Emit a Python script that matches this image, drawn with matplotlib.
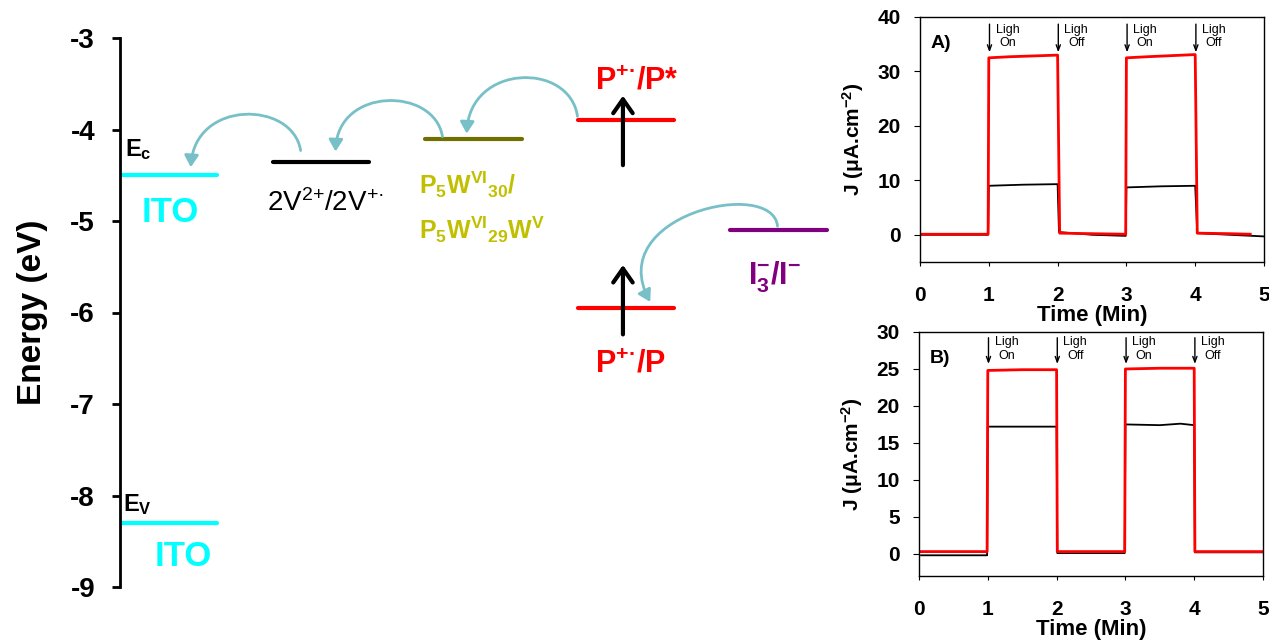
import numpy as np
import matplotlib.pyplot as plt
from matplotlib.patches import FancyArrowPatch
from matplotlib.path import Path
from matplotlib.transforms import IdentityTransform

plt.rcParams['font.family'] = ['Liberation Sans', 'DejaVu Sans']
plt.rcParams['mathtext.default'] = 'regular'
plt.rcParams['axes.unicode_minus'] = False

# ----------------------------
# Energy level data (eV)
# ----------------------------
level_slot = [0, 1, 2, 3, 3, 4, 0]
level_energy = [-4.5, -4.35, -4.1, -3.9, -5.95, -5.1, -8.3]
level_color = ['#00ffff', 'black', '#707000', 'red', 'red', '#800080', '#00ffff']
# electron transfer: donor level -> acceptor level
transfer_from = [1, 2, 3, 5]
transfer_to = [0, 1, 2, 4]
energy_ticks = [-3, -4, -5, -6, -7, -8, -9]

# ----------------------------
# Photocurrent data (J in uA/cm2 vs time in min)
# ----------------------------
tA_red = [0.03, 0.99, 1.0, 1.3, 2.0, 2.03, 2.5, 2.99, 3.0, 3.3, 4.0, 4.03, 4.5, 4.8]
jA_red = [0.1, 0.1, 32.5, 32.7, 33.0, 0.3, 0.2, 0.1, 32.5, 32.7, 33.1, 0.3, 0.2, 0.1]
tA_blk = [0.03, 0.99, 1.0, 1.5, 2.0, 2.02, 2.5, 2.99, 3.0, 3.5, 4.0, 4.03, 4.5, 5.0]
jA_blk = [0.0, 0.0, 9.0, 9.2, 9.3, 0.5, 0.0, -0.2, 8.7, 8.9, 9.0, 0.3, 0.0, -0.3]

tB_red = [0.03, 0.99, 1.0, 1.5, 2.0, 2.01, 2.5, 2.99, 3.0, 3.5, 4.0, 4.01, 4.5, 5.0]
jB_red = [0.3, 0.3, 24.8, 24.9, 24.9, 0.3, 0.3, 0.3, 25.0, 25.1, 25.1, 0.3, 0.3, 0.3]
tB_blk = [0.03, 0.99, 1.0, 1.5, 2.0, 2.01, 2.5, 2.99, 3.0, 3.5, 3.8, 4.0, 4.01, 4.5, 5.0]
jB_blk = [-0.2, -0.2, 17.2, 17.2, 17.2, 0.1, 0.1, 0.1, 17.5, 17.4, 17.6, 17.4, 0.2, 0.2, 0.2]

light_times = [1, 2, 3, 4]
light_labels = ['Ligh\nOn', 'Ligh\nOff', 'Ligh\nOn', 'Ligh\nOff']

W, H = 1269, 643
fig = plt.figure(figsize=(W / 100, H / 100), dpi=100)

# ----------------------------
# Energy diagram
# ----------------------------
ax = fig.add_axes([120 / W, 1 - 587 / H, 720 / W, 549 / H])
ax.set_xlim(0, 720 / 152.5)
ax.set_ylim(-9, -3)
for s in ['top', 'right', 'bottom']:
    ax.spines[s].set_visible(False)
ax.spines['left'].set_linewidth(2)
ax.set_xticks([])
ax.set_yticks(energy_ticks)
ax.set_yticklabels([str(t) for t in energy_ticks])
ax.tick_params(axis='y', length=6, width=2, pad=12, labelsize=20)
for lb in ax.get_yticklabels():
    lb.set_fontweight('bold')
ax.set_ylabel('Energy (eV)', fontsize=24, fontweight='bold', labelpad=16)

lw_frac = 0.636
for s, e, c in zip(level_slot, level_energy, level_color):
    ax.plot([s, s + lw_frac], [e, e], color=c, lw=3, solid_capstyle='round')

def lvl_px(i, frac):
    x = level_slot[i] + frac * lw_frac
    return ax.transData.transform((x, level_energy[i]))

def label(i, txt, dx, dy, color, size, weight='bold', ha='center', frac=0.5):
    ax.annotate(txt, xy=(level_slot[i] + frac * lw_frac, level_energy[i]),
                xytext=(dx * 0.72, dy * 0.72), textcoords='offset points',
                ha=ha, va='baseline', color=color, fontsize=size,
                fontweight=weight)

label(0, 'E$_c$', 5, 19, 'black', 17, ha='left', frac=0)
label(0, 'ITO', 2, -47, '#00ffff', 25)
label(6, 'E$_V$', 3, 12, 'black', 17, ha='left', frac=0)
label(6, 'ITO', 15, -43, '#00ffff', 25)
label(1, '2V$^{2{+}}$/2V$^{+·}$', 4, -49, 'black', 20, weight='normal')
label(2, 'P$_5$W$^{VI}{}_{30}$/', -6, -55, '#c0c000', 18, ha='left', frac=0)
label(2, 'P$_5$W$^{VI}{}_{29}$W$^{V}$', -6, -100, '#c0c000', 18, ha='left', frac=0)
label(3, 'P$^{+·}$/P*', 11, 31, 'red', 22)
label(4, 'P$^{+·}$/P', 4, -65, 'red', 22)
label(5, 'I$_3^{-}$/I$^{-}$', -4, -54, '#800080', 22)

# excitation arrows
for i, below, above in [(3, 0.52, 0.30), (4, 0.32, 0.50)]:
    xc = level_slot[i] + 0.5 * lw_frac - 0.02
    ax.annotate('', xy=(xc, level_energy[i] + above),
                xytext=(xc, level_energy[i] - below),
                arrowprops=dict(arrowstyle='->,head_length=0.5,head_width=0.35',
                                color='black', lw=3, mutation_scale=20))

# curved electron-transfer arrows (pixel offsets for control points)
start_frac = [0.29, 0.18, 0.0, 0.49]
start_lift = [11, 2, 4, 4]
end_frac = [0.73, 0.65, 0.43, 0.75]
end_lift = [8, 10, 5, 6]
c1 = [(-8, 50), (-8, 50), (-8, 55), (-5, 49)]
c2 = [(4, 68), (2, 65), (3, 70), (-47, 87)]
fig.canvas.draw()
for k, (a, b) in enumerate(zip(transfer_from, transfer_to)):
    p0 = lvl_px(a, start_frac[k]) + np.array([0, start_lift[k]])
    p3 = lvl_px(b, end_frac[k]) + np.array([0, end_lift[k]])
    p1 = p0 + np.array(c1[k])
    p2 = p3 + np.array(c2[k])
    path = Path([p0, p1, p2, p3], [Path.MOVETO, Path.CURVE4, Path.CURVE4, Path.CURVE4])
    arr = FancyArrowPatch(path=path, transform=IdentityTransform(),
                          arrowstyle='-|>,head_length=0.5,head_width=0.3',
                          mutation_scale=14, color='#78c0c8', lw=2)
    fig.add_artist(arr)

# ----------------------------
# Photocurrent panels
# ----------------------------
def panel(rect, tr, jr, tb, jb, ylim, yticks, tag, arrow_top, arrow_bot):
    a = fig.add_axes(rect)
    a.plot(tb, jb, color='black', lw=1.3)
    a.plot(tr, jr, color='red', lw=2)
    a.set_xlim(0, 5)
    a.set_ylim(*ylim)
    a.set_xticks(range(6))
    a.set_yticks(yticks)
    a.tick_params(axis='x', length=3, pad=14, labelsize=15)
    a.tick_params(axis='y', length=4, pad=10, labelsize=15)
    for lb in a.get_xticklabels() + a.get_yticklabels():
        lb.set_fontweight('bold')
    for s in a.spines.values():
        s.set_linewidth(1)
    a.set_xlabel('Time (Min)', fontsize=16, fontweight='bold', labelpad=0)
    a.set_ylabel('J ($\\mu$A.cm$^{-2}$)', fontsize=15, fontweight='bold', labelpad=8)
    a.text(0.03, 0.89, tag, transform=a.transAxes, fontsize=14, fontweight='bold',
           va='center')
    for t, lab in zip(light_times, light_labels):
        a.annotate('', xy=(t + 0.01, arrow_bot), xytext=(t + 0.01, arrow_top),
                   arrowprops=dict(arrowstyle='->,head_length=0.4,head_width=0.15',
                                   color='black', lw=1, mutation_scale=10))
        a.text(t + 0.27, arrow_top - (arrow_top - arrow_bot) * 0.45, lab,
               fontsize=9, ha='center', va='center', linespacing=1.2)
    return a

panel([920 / W, 1 - 262 / H, 344 / W, 245 / H], tA_red, jA_red, tA_blk, jA_blk,
      (-5, 40), [0, 10, 20, 30, 40], 'A)', 39.2, 33.0)
panel([919 / W, 1 - 576 / H, 344 / W, 244 / H], tB_red, jB_red, tB_blk, jB_blk,
      (-3, 30), [0, 5, 10, 15, 20, 25, 30], 'B)', 29.6, 25.3)

fig.savefig('out.png', dpi=100)
